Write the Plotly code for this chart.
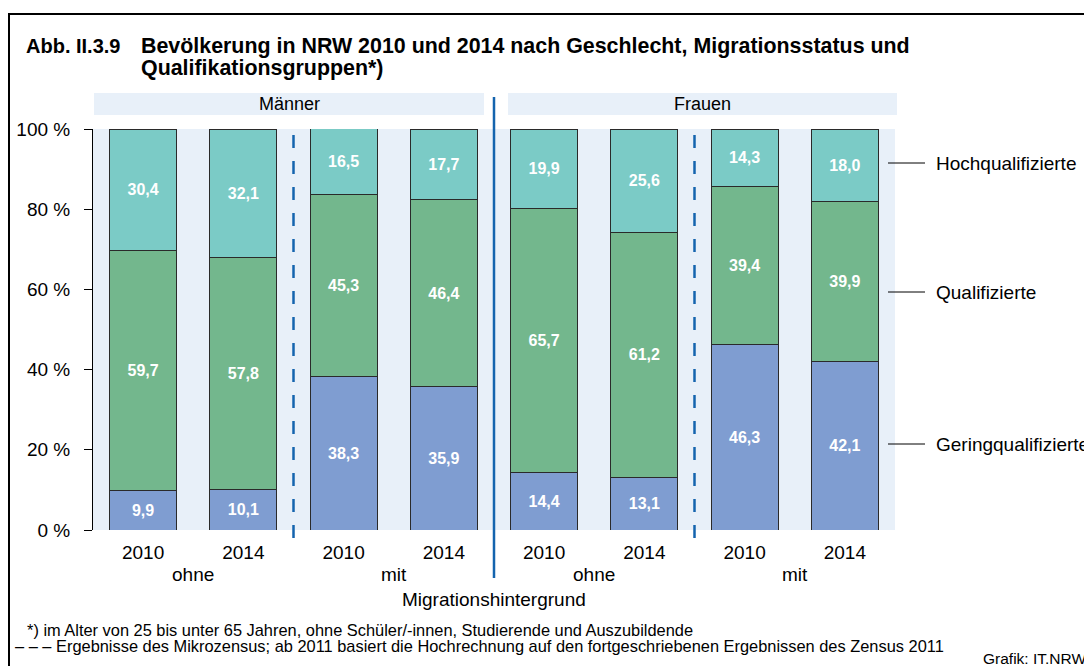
import plotly.graph_objects as go

# ---------------- data ----------------
categories = ["M ohne 2010", "M ohne 2014", "M mit 2010", "M mit 2014",
              "F ohne 2010", "F ohne 2014", "F mit 2010", "F mit 2014"]
year_labels = ["2010", "2014", "2010", "2014", "2010", "2014", "2010", "2014"]
geringqualifizierte = [9.9, 10.1, 38.3, 35.9, 14.4, 13.1, 46.3, 42.1]
qualifizierte = [59.7, 57.8, 45.3, 46.4, 65.7, 61.2, 39.4, 39.9]
hochqualifizierte = [30.4, 32.1, 16.5, 17.7, 19.9, 25.6, 14.3, 18.0]
series_names = ["Geringqualifizierte", "Qualifizierte", "Hochqualifizierte"]
y_ticks = [0, 20, 40, 60, 80, 100]
y_tick_labels = ["0 %", "20 %", "40 %", "60 %", "80 %", "100 %"]
group_labels = ["ohne", "mit", "ohne", "mit"]
gender_labels = ["Männer", "Frauen"]

# ---------------- style ----------------
W, H = 1092, 666
OFF = 8  # page body margin offset
PL, PT, PW, PH = 93, 129, 802, 401   # plot area as seen on the page
ML, MT = PL - OFF, PT - OFF
MR, MB = W - ML - PW, H - MT - PH
FONT = "Liberation Sans, Arial, sans-serif"
C_BLUE_BAR = "#7F9DD1"
C_GREEN = "#73B78D"
C_TEAL = "#7BCBC6"
C_BG = "#E8F0F9"
C_LINE = "#1464AE"


def px_x(px):
    return (px - PL) / PW


def px_y(py):
    return (PT + PH - py) / PH


fig = go.Figure()
for name, vals, col in zip(series_names,
                           [geringqualifizierte, qualifizierte, hochqualifizierte],
                           [C_BLUE_BAR, C_GREEN, C_TEAL]):
    fig.add_trace(go.Bar(
        x=categories, y=vals, name=name,
        marker=dict(color=col, line=dict(color="#2a2a2a", width=1)),
        texttemplate="%{y:.1f}", textposition="inside", insidetextanchor="middle",
        textangle=0,
        textfont=dict(color="white", size=16, family=FONT, weight="bold"),
        showlegend=False,
    ))

shapes = []
# outer frame
shapes.append(dict(type="rect", xref="paper", yref="paper",
                   x0=px_x(9), x1=px_x(1300), y0=px_y(900), y1=px_y(14),
                   line=dict(color="black", width=2), fillcolor="rgba(0,0,0,0)", layer="above"))
# header bands
bands = [(94, 484), (508, 897)]
for (a, b) in bands:
    shapes.append(dict(type="rect", xref="paper", yref="paper",
                       x0=px_x(a), x1=px_x(b), y0=px_y(115), y1=px_y(93),
                       line=dict(width=0), fillcolor=C_BG, layer="below"))
# solid separator
shapes.append(dict(type="line", xref="x", yref="paper",
                   x0=3.5, x1=3.5, y0=px_y(97), y1=px_y(578),
                   line=dict(color=C_LINE, width=2.5)))
# dashed separators
for xv in [1.5, 5.5]:
    shapes.append(dict(type="line", xref="x", yref="paper",
                       x0=xv, x1=xv, y0=px_y(135), y1=px_y(549),
                       line=dict(color=C_LINE, width=2.5, dash="13px,13px")))
# label leader lines
label_y_px = [444, 292, 163]
for py in label_y_px:
    shapes.append(dict(type="line", xref="paper", yref="paper",
                       x0=px_x(888), x1=px_x(925), y0=px_y(py), y1=px_y(py),
                       line=dict(color="black", width=1)))

ann = []
# title
TF = dict(size=21.4, family=FONT, color="black")
ann.append(dict(text="<b>Abb. II.3.9</b>", xref="paper", yref="paper",
                x=px_x(24), y=px_y(46), xanchor="left", yanchor="middle",
                showarrow=False, font=dict(size=20, family=FONT, color="black")))
ann.append(dict(text="<b>Bevölkerung in NRW 2010 und 2014 nach Geschlecht, Migrationsstatus und</b>",
                xref="paper", yref="paper",
                x=px_x(139), y=px_y(46), xanchor="left", yanchor="middle",
                showarrow=False, font=TF))
ann.append(dict(text="<b>Qualifikationsgruppen*)</b>",
                xref="paper", yref="paper",
                x=px_x(139), y=px_y(68), xanchor="left", yanchor="middle",
                showarrow=False, font=TF))
# gender headers
for lbl, (a, b) in zip(gender_labels, bands):
    ann.append(dict(text=lbl, xref="paper", yref="paper",
                    x=px_x((a + b) / 2), y=px_y(104), xanchor="center", yanchor="middle",
                    showarrow=False, font=dict(size=18, family=FONT, color="black")))
# ohne / mit
for i, lbl in enumerate(group_labels):
    ann.append(dict(text=lbl, xref="x", yref="paper",
                    x=2 * i + 0.5, y=px_y(574), xanchor="center", yanchor="middle",
                    showarrow=False, font=dict(size=19, family=FONT, color="black")))
ann.append(dict(text="Migrationshintergrund", xref="x", yref="paper",
                x=3.5, y=px_y(599), xanchor="center", yanchor="middle",
                showarrow=False, font=dict(size=19, family=FONT, color="black")))
# right labels
for name, py in zip(series_names, label_y_px):
    ann.append(dict(text=name, xref="paper", yref="paper",
                    x=px_x(934), y=px_y(py), xanchor="left", yanchor="middle",
                    showarrow=False, font=dict(size=19, family=FONT, color="black")))
# footnotes
FF = dict(size=16.4, family=FONT, color="black")
ann.append(dict(text="*) im Alter von 25 bis unter 65 Jahren, ohne Schüler/-innen, Studierende und Auszubildende",
                xref="paper", yref="paper", x=px_x(25), y=px_y(630), xanchor="left", yanchor="middle",
                showarrow=False, font=FF))
ann.append(dict(text="– – – Ergebnisse des Mikrozensus; ab 2011 basiert die Hochrechnung auf den fortgeschriebenen Ergebnissen des Zensus 2011",
                xref="paper", yref="paper", x=px_x(13), y=px_y(646), xanchor="left", yanchor="middle",
                showarrow=False, font=FF))
ann.append(dict(text="Grafik: IT.NRW",
                xref="paper", yref="paper", x=px_x(981), y=px_y(658), xanchor="left", yanchor="middle",
                showarrow=False, font=dict(size=15.5, family=FONT, color="black")))

fig.update_layout(
    width=W, height=H,
    margin=dict(l=ML, r=MR, t=MT, b=MB, autoexpand=False),
    paper_bgcolor="white", plot_bgcolor=C_BG,
    barmode="stack", bargap=0.33,
    separators=",.",
    font=dict(family=FONT, size=19, color="black"),
    shapes=shapes, annotations=ann,
    showlegend=False,
)
fig.update_xaxes(type="category", categoryorder="array", categoryarray=categories,
                 range=[-0.5, 7.5], tickvals=categories, ticktext=year_labels,
                 showgrid=False, showline=False, ticks="", zeroline=False,
                 ticklabelstandoff=9, tickfont=dict(size=19, family=FONT, color="black"))
fig.update_yaxes(range=[0, 100], tickvals=y_ticks, ticktext=y_tick_labels,
                 showgrid=False, zeroline=False, showline=True, linecolor="black", linewidth=1,
                 ticks="outside", ticklen=8, tickcolor="black", tickwidth=1,
                 ticklabelstandoff=10, tickfont=dict(size=19, family=FONT, color="black"))

fig.write_html("out.html")
